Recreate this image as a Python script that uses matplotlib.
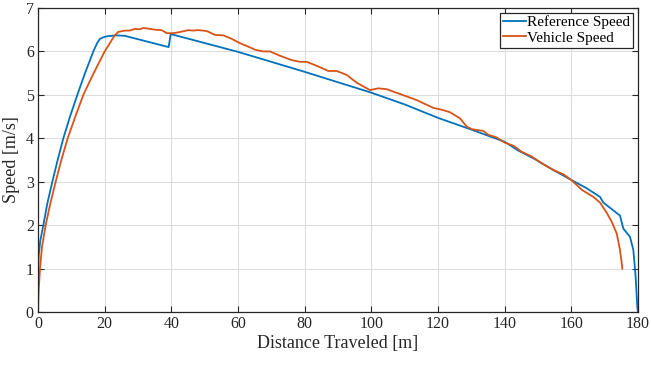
import matplotlib
matplotlib.use("Agg")
import matplotlib.pyplot as plt

ref_x = [0, 0.05, 0.2, 0.7, 1.6, 2.8, 4.3, 5.9, 7.6, 9.6, 11.8, 14.1, 16.6, 17.8, 18.6, 19.8,
         20.8, 23.5, 26, 39.2, 39.8, 60, 80, 100, 110, 120, 130, 140, 144, 148.6, 154.6, 160,
         164.6, 168.6, 169.6, 174.6, 175.6, 177.6, 178.6, 179.3, 179.8, 180]
ref_y = [0, 1.0, 1.3, 1.65, 2.0, 2.5, 3.0, 3.5, 4.0, 4.5, 5.0, 5.5, 6.0, 6.2, 6.29, 6.33,
         6.35, 6.37, 6.36, 6.1, 6.4, 5.99, 5.53, 5.05, 4.78, 4.47, 4.2, 3.92, 3.72, 3.54, 3.27, 3.04,
         2.85, 2.65, 2.52, 2.22, 1.92, 1.73, 1.43, 0.8, 0.1, 0]

veh_x = [0, 0.2, 0.6, 1.2, 2.3, 3.7, 5.3, 7.0, 8.9, 11.2, 13.6, 16.7, 20.0, 21.0, 22.1,
         23.0, 24.1, 26.1, 27.5, 29.1, 30.5, 31.6, 33.6, 35.1, 37.1, 38.6, 40.6, 42.1, 45.1,
         46.5, 48.1, 50.6, 53.1, 55.6, 58.1, 60.6, 63.1, 65.1, 67.6, 69.6, 72.6, 76.1, 78.6,
         80.6, 83.6, 87.1, 89.6, 92.6, 95.6, 99.6, 102.1, 104.6, 108.6, 113.6, 118.6, 121.0,
         123.6, 126.6, 128.6, 130.1, 133.6, 135.1, 137.6, 140, 142.6, 145.1, 148.1, 151.6,
         154.6, 157.6, 160, 163.2, 166.6, 168.6, 170.5, 172.1, 173.6, 174.5, 175.0, 175.3]
veh_y = [0, 0.5, 1.0, 1.5, 2.0, 2.5, 3.0, 3.5, 4.0, 4.5, 5.0, 5.5, 6.0, 6.12, 6.26,
         6.37, 6.45, 6.48, 6.48, 6.52, 6.51, 6.54, 6.52, 6.5, 6.49, 6.42, 6.42, 6.44, 6.49,
         6.48, 6.49, 6.47, 6.38, 6.37, 6.29, 6.19, 6.11, 6.04, 6.0, 6.0, 5.9, 5.8, 5.76,
         5.76, 5.67, 5.55, 5.55, 5.46, 5.28, 5.11, 5.15, 5.13, 5.02, 4.88, 4.70, 4.66,
         4.60, 4.46, 4.27, 4.21, 4.17, 4.08, 4.02, 3.90, 3.83, 3.69, 3.58, 3.40,
         3.27, 3.17, 3.04, 2.81, 2.65, 2.52, 2.3, 2.08, 1.81, 1.47, 1.2, 1.0]

x_ticks = list(range(0, 181, 20))
y_ticks = list(range(0, 8))

plt.rcParams['font.family'] = ['Liberation Serif', 'DejaVu Serif']

fig = plt.figure(figsize=(6.51, 3.65), dpi=100)
ax = fig.add_axes([38/651, 53/365, 600/651, 304/365])

ax.plot(ref_x, ref_y, color='#0072BD', lw=1.3, label='Reference Speed')
ax.plot(veh_x, veh_y, color='#D95319', lw=1.3, label='Vehicle Speed')

ax.set_xlim(0, 180)
ax.set_ylim(0, 7)
ax.set_xticks(x_ticks)
ax.set_yticks(y_ticks)
ax.grid(True, color='#dcdcdc', lw=0.8)
ax.set_axisbelow(True)
ax.tick_params(direction='in', top=True, right=True, length=4, width=0.8,
               labelsize=11.5, colors='#262626', pad=3)
for s in ax.spines.values():
    s.set_color('#262626')
    s.set_linewidth(0.9)
ax.set_xlabel('Distance Traveled [m]', fontsize=13, color='#262626', labelpad=2)
ax.set_ylabel('Speed [m/s]', fontsize=13, color='#262626', labelpad=4)

leg = ax.legend(loc='upper right', fontsize=11, fancybox=False, framealpha=1,
                edgecolor='#262626', handlelength=1.5, handletextpad=0.1,
                borderpad=0.2, labelspacing=0.1, borderaxespad=0.3)
leg.get_frame().set_linewidth(0.9)

fig.savefig('out.png', dpi=100)
